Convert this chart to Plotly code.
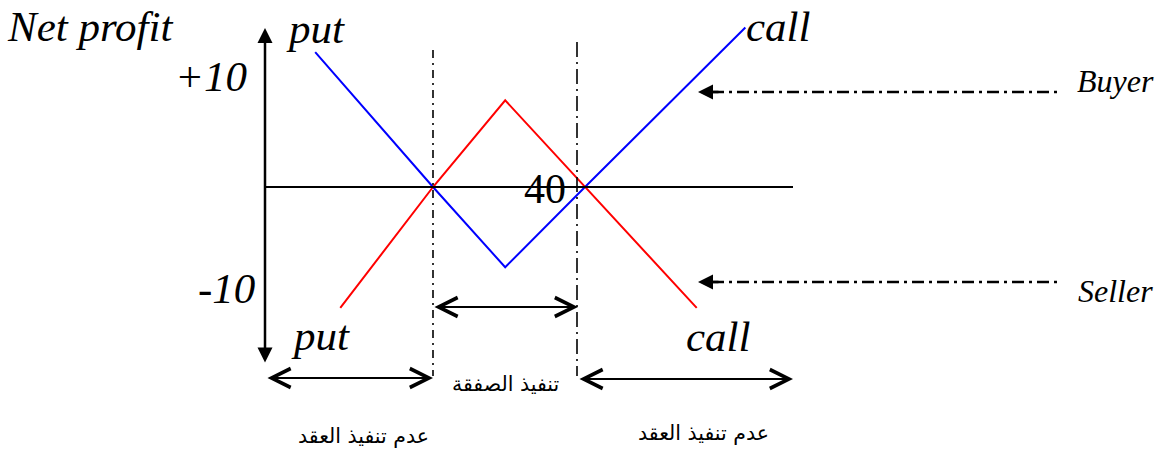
import plotly.graph_objects as go

# ---- diagram data (price units on x, net profit units on y) ----
buyer_x = [4.5, 20, 29.5, 40, 61.1]
buyer_y = [12.6, 0, -7.5, 0, 14.9]
seller_x = [7.8, 20, 29.5, 40, 54.7]
seller_y = [-11.3, 0, 8.1, 0, -11.3]
strike_labels = ["40"]
tick_labels = ["+10", "-10"]

W, H = 1162, 450
PX_PER_X = 7.6
PX_PER_Y = 10.7
X_ORIGIN_PX, X_ORIGIN_VAL = 585, 40
Y_ZERO_PX = 187


def X(px):
    return X_ORIGIN_VAL + (px - X_ORIGIN_PX) / PX_PER_X


def Y(py):
    return (Y_ZERO_PX - py) / PX_PER_Y


SERIF = "Liberation Serif"
ARABIC = "DejaVu Sans"

fig = go.Figure()

# zero axis line
fig.add_shape(type="line", x0=X(265), x1=X(793), y0=0, y1=0,
              line=dict(color="black", width=2))

# strike dash-dot verticals
fig.add_shape(type="line", x0=X(433), x1=X(433), y0=Y(50), y1=Y(376),
              line=dict(color="black", width=1.6, dash="8px,5px,2px,5px"))
fig.add_shape(type="line", x0=X(577), x1=X(577), y0=Y(42), y1=Y(376),
              line=dict(color="black", width=1.6, dash="15px,5px,2px,5px"))

# buyer / seller dash-dot pointer lines
for py in (92, 282):
    fig.add_shape(type="line", x0=X(712), x1=X(1060), y0=Y(py), y1=Y(py),
                  line=dict(color="black", width=2.5, dash="12px,5px,3px,5px"))

# payoff lines
fig.add_trace(go.Scatter(x=buyer_x, y=buyer_y, mode="lines",
                         line=dict(color="#0000FF", width=2), hoverinfo="skip"))
fig.add_trace(go.Scatter(x=seller_x, y=seller_y, mode="lines",
                         line=dict(color="#FF0000", width=2), hoverinfo="skip"))

annotations = []

# vertical axis double arrow (filled heads)
annotations.append(dict(x=X(265), y=Y(28), ax=X(265), ay=Y(364), xref="x", yref="y",
                        axref="x", ayref="y", text="", showarrow=True, arrowhead=2,
                        arrowside="end+start", arrowwidth=2.5, arrowsize=1.2,
                        arrowcolor="black", standoff=0, startstandoff=0))

# double arrows (open chevrons)
for x0, x1, py in ((433, 578, 307), (266, 433, 378), (578, 793, 379)):
    annotations.append(dict(x=X(x1), y=Y(py), ax=X(x0), ay=Y(py), xref="x", yref="y",
                            axref="x", ayref="y", text="", showarrow=True, arrowhead=5,
                            startarrowhead=5, arrowside="end+start", arrowwidth=2.2,
                            arrowsize=1.7, startarrowsize=1.7,
                            arrowcolor="black", standoff=0, startstandoff=0))

# buyer / seller filled arrow heads
for py in (92, 282):
    annotations.append(dict(x=X(698), y=Y(py), ax=X(720), ay=Y(py), xref="x", yref="y",
                            axref="x", ayref="y", text="", showarrow=True, arrowhead=2,
                            arrowwidth=2.5, arrowsize=1.2, arrowcolor="black",
                            standoff=0))


def label(text, px, py, size, family=SERIF, style="italic"):
    annotations.append(dict(x=X(px), y=Y(py), xref="x", yref="y", text=text,
                            showarrow=False, xanchor="center", yanchor="middle",
                            font=dict(family=family, size=size, color="black", style=style)))


label("Net profit", 90, 26.5, 43)
label("put", 315, 28.5, 43)
label(tick_labels[0], 211, 76.5, 43)
label(tick_labels[1], 226, 288.5, 43)
label("put", 320, 335.5, 43)
label("call", 778, 26.5, 43)
label("call", 718, 336.5, 43)
label(strike_labels[0], 545, 189, 42, style="normal")
label("Buyer", 1115, 81, 32)
label("Seller", 1115.5, 291, 32)
label("تنفيذ الصفقة", 505, 384, 20.5, family=ARABIC, style="normal")
label("عدم تنفيذ العقد", 363, 436, 20.5, family=ARABIC, style="normal")
label("عدم تنفيذ العقد", 703, 433, 20.5, family=ARABIC, style="normal")

fig.update_layout(
    width=W, height=H,
    margin=dict(l=0, r=0, t=0, b=0),
    paper_bgcolor="white", plot_bgcolor="white",
    showlegend=False,
    annotations=annotations,
    xaxis=dict(range=[X(0), X(W)], visible=False, fixedrange=True),
    yaxis=dict(range=[Y(H), Y(0)], visible=False, fixedrange=True),
)

fig.write_html("out.html", config={"displayModeBar": False},
               post_script="document.body.style.margin='0';")
